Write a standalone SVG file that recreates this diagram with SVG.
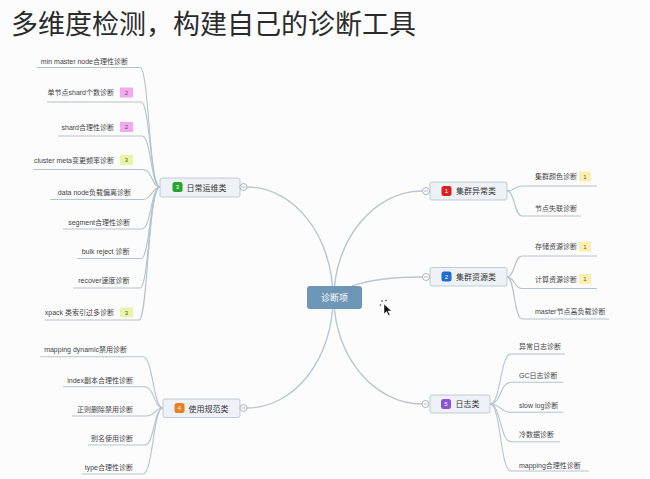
<svg xmlns="http://www.w3.org/2000/svg" width="650" height="479" viewBox="0 0 650 479">
<style>
.bg{fill:#fcfcfd}
.title{font-family:"Liberation Sans","Noto Sans CJK SC",sans-serif;font-size:27px;fill:#2b2b2b}
.ln{fill:none;stroke:#b4c3d0;stroke-width:1.1}
.main{fill:none;stroke:#bcc6cf;stroke-width:1.4}
.box{fill:#eef1f5;stroke:#b3c0cc;stroke-width:0.8}
.nt{font-family:"Liberation Sans","Noto Sans CJK SC",sans-serif;font-size:8px;fill:#333}
.lt{font-family:"Liberation Sans","Noto Sans CJK SC",sans-serif;font-size:7px;fill:#444}
.ic{font-family:"Liberation Sans",sans-serif;font-size:6px;fill:#fff;text-anchor:middle}
.bt{font-family:"Liberation Sans",sans-serif;font-size:6px;fill:#555;text-anchor:middle}
.tog{fill:#fff;stroke:#9aa5ae;stroke-width:0.8}
.pink{fill:#f3a9ef}
.grn{fill:#e8f6a6}
.yel{fill:#fbefae}
</style>
<rect class="bg" x="0" y="0" width="650" height="479"/>
<text class="title" x="11" y="34">多维度检测，构建自己的诊断工具</text>

<g id="connectors">
  <!-- main branches -->
  <path class="main" d="M247,187 C295,187 333,237 333,298"/>
  <path class="main" d="M247,408 C295,408 333,358 333,298"/>
  <path class="main" d="M334,298 C334,240 374,191 422,191"/>
  <path class="main" d="M334,298 C334,356 374,404 422,404"/>
  <path class="main" d="M352,286 C372,279 395,277 422,277"/>
  <!-- node 3 leaves -->
  <path class="ln" d="M37,67.5 H140 C149,67.5 149,187 160,187"/>
  <path class="ln" d="M47,102 H141 C150,102 150,187 160,187"/>
  <path class="ln" d="M58,136 H142 C151,136 151,187 160,187"/>
  <path class="ln" d="M33,169.5 H143 C152,169.5 152,187 160,187"/>
  <path class="ln" d="M50,199.5 H143 C152,199.5 152,187 160,187"/>
  <path class="ln" d="M63,229 H142 C151,229 151,187 160,187"/>
  <path class="ln" d="M77,258.5 H141 C150,258.5 150,187 160,187"/>
  <path class="ln" d="M73,288 H140 C149,288 149,187 160,187"/>
  <path class="ln" d="M45,320 H139 C148,320 148,187 160,187"/>
  <!-- node 4 leaves -->
  <path class="ln" d="M40,356.7 H143 C153,356.7 153,408 163,408"/>
  <path class="ln" d="M63,386.7 H145 C154,386.7 154,408 163,408"/>
  <path class="ln" d="M72,416 H146 C155,416 155,408 163,408"/>
  <path class="ln" d="M88,445 H145 C154,445 154,408 163,408"/>
  <path class="ln" d="M82,474 H143 C153,474 153,408 163,408"/>
  <!-- node 1 leaves -->
  <path class="ln" d="M507,191 C515,191 514,186 522,186 H597"/>
  <path class="ln" d="M507,191 C515,191 514,216 522,216 H581"/>
  <!-- node 2 leaves -->
  <path class="ln" d="M507,277 C515,277 514,256 522,256 H597"/>
  <path class="ln" d="M507,277 C515,277 514,288.5 522,288.5 H597"/>
  <path class="ln" d="M507,277 C515,277 514,319 522,319 H609"/>
  <!-- node 5 leaves -->
  <path class="ln" d="M490,404 C501,404 500,354 511,354 H565"/>
  <path class="ln" d="M490,404 C501,404 500,382.3 511,382.3 H563"/>
  <path class="ln" d="M490,404 C501,404 500,412.3 511,412.3 H563"/>
  <path class="ln" d="M490,404 C501,404 500,441.7 511,441.7 H560"/>
  <path class="ln" d="M490,404 C501,404 500,471 511,471 H589"/>
</g>

<g id="center">
  <rect x="307" y="286" width="55" height="23" rx="3" fill="#6e97b7"/>
  <text x="334.5" y="301" font-family="Liberation Sans,Noto Sans CJK SC,sans-serif" font-size="9" fill="#fff" text-anchor="middle">诊断项</text>
</g>

<g id="node1">
  <circle class="tog" cx="426" cy="191" r="3.5"/><line x1="424" y1="191" x2="428" y2="191" stroke="#9aa5ae" stroke-width="0.7"/>
  <rect class="box" x="430" y="182" width="77" height="18" rx="2"/>
  <rect x="441.5" y="186" width="10" height="10" rx="2.5" fill="#d62222"/>
  <text class="ic" x="446.5" y="193">1</text>
  <text class="nt" x="456" y="194">集群异常类</text>
</g>
<g id="node1-leaves">
  <text class="lt" x="535" y="178.5">集群颜色诊断</text>
  <rect class="yel" x="579" y="171.5" width="12" height="10"/><text class="bt" x="585" y="178.5">1</text>
  <text class="lt" x="535" y="210.5">节点失联诊断</text>
</g>

<g id="node2">
  <circle class="tog" cx="426" cy="277" r="3.5"/><line x1="424" y1="277" x2="428" y2="277" stroke="#9aa5ae" stroke-width="0.7"/>
  <rect class="box" x="430" y="267.5" width="77" height="18.5" rx="2"/>
  <rect x="441.5" y="271.5" width="10" height="10" rx="2.5" fill="#1f6cd3"/>
  <text class="ic" x="446.5" y="278.5">2</text>
  <text class="nt" x="456" y="279.5">集群资源类</text>
</g>
<g id="node2-leaves">
  <text class="lt" x="535" y="248.5">存储资源诊断</text>
  <rect class="yel" x="579" y="241.5" width="12" height="10"/><text class="bt" x="585" y="248.5">1</text>
  <text class="lt" x="535" y="281.5">计算资源诊断</text>
  <rect class="yel" x="579" y="274" width="12" height="10"/><text class="bt" x="585" y="281">1</text>
  <text class="lt" x="535" y="314">master节点高负载诊断</text>
</g>

<g id="node5">
  <circle class="tog" cx="425.5" cy="404" r="3.5"/><line x1="423.5" y1="404" x2="427.5" y2="404" stroke="#9aa5ae" stroke-width="0.7"/>
  <rect class="box" x="430" y="395" width="60" height="18" rx="2"/>
  <rect x="441" y="399" width="10" height="10" rx="2.5" fill="#8a52d6"/>
  <text class="ic" x="446" y="406">5</text>
  <text class="nt" x="455.5" y="407">日志类</text>
</g>
<g id="node5-leaves">
  <text class="lt" x="519" y="349">异常日志诊断</text>
  <text class="lt" x="519" y="378">GC日志诊断</text>
  <text class="lt" x="519" y="407.5">slow log诊断</text>
  <text class="lt" x="519" y="436.5">冷数据诊断</text>
  <text class="lt" x="519" y="467.5">mapping合理性诊断</text>
</g>

<g id="node3">
  <rect class="box" x="160" y="178" width="80" height="19" rx="2"/>
  <rect x="172.5" y="182" width="10" height="10" rx="2.5" fill="#24a52a"/>
  <text class="ic" x="177.5" y="189">3</text>
  <text class="nt" x="186.5" y="190.5">日常运维类</text>
  <circle class="tog" cx="243.5" cy="187" r="3.5"/><line x1="241.5" y1="187" x2="245.5" y2="187" stroke="#9aa5ae" stroke-width="0.7"/>
</g>
<g id="node3-leaves">
  <text class="lt" x="128" y="64" text-anchor="end">min master node合理性诊断</text>
  <text class="lt" x="114" y="95" text-anchor="end">单节点shard个数诊断</text>
  <rect class="pink" x="120" y="87.5" width="13" height="10"/><text class="bt" x="126.5" y="94.5">2</text>
  <text class="lt" x="114" y="129.5" text-anchor="end">shard合理性诊断</text>
  <rect class="pink" x="120" y="122" width="13" height="10"/><text class="bt" x="126.5" y="129">2</text>
  <text class="lt" x="114" y="162.5" text-anchor="end">cluster meta变更频率诊断</text>
  <rect class="grn" x="120" y="155" width="13" height="10"/><text class="bt" x="126.5" y="162">3</text>
  <text class="lt" x="131" y="195" text-anchor="end">data node负载偏离诊断</text>
  <text class="lt" x="130" y="224.5" text-anchor="end">segment合理性诊断</text>
  <text class="lt" x="129.5" y="254" text-anchor="end">bulk reject 诊断</text>
  <text class="lt" x="129.5" y="283" text-anchor="end">recover速度诊断</text>
  <text class="lt" x="114" y="315" text-anchor="end">xpack 类索引过多诊断</text>
  <rect class="grn" x="120" y="307.5" width="13" height="10"/><text class="bt" x="126.5" y="314.5">3</text>
</g>

<g id="node4">
  <rect class="box" x="163" y="399" width="77" height="18.5" rx="2"/>
  <rect x="174.5" y="403" width="10" height="10" rx="2.5" fill="#ea7f1f"/>
  <text class="ic" x="179.5" y="410">4</text>
  <text class="nt" x="188.5" y="411.5">使用规范类</text>
  <circle class="tog" cx="243.5" cy="408" r="3.5"/><line x1="241.5" y1="408" x2="245.5" y2="408" stroke="#9aa5ae" stroke-width="0.7"/>
</g>
<g id="node4-leaves">
  <text class="lt" x="127" y="352" text-anchor="end">mapping dynamic禁用诊断</text>
  <text class="lt" x="133" y="382.5" text-anchor="end">index副本合理性诊断</text>
  <text class="lt" x="133" y="412" text-anchor="end">正则删除禁用诊断</text>
  <text class="lt" x="133" y="441" text-anchor="end">别名使用诊断</text>
  <text class="lt" x="133" y="470" text-anchor="end">type合理性诊断</text>
</g>

<g id="cursor">
  <path d="M384,304 L384,314 L386.5,311.5 L388.5,315.5 L390,314.8 L388,311 L391.5,311 Z" fill="#111" stroke="#fff" stroke-width="0.5"/>
  <circle cx="382" cy="301" r="0.8" fill="#333"/>
  <circle cx="380.5" cy="305" r="0.8" fill="#333"/>
  <circle cx="386" cy="300.5" r="0.8" fill="#333"/>
</g>
</svg>
